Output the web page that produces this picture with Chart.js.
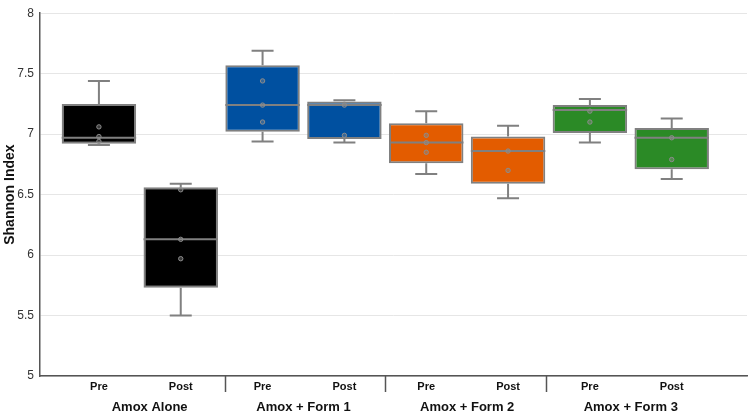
<!DOCTYPE html>
<html>
<head>
<meta charset="utf-8">
<script src="https://cdn.jsdelivr.net/npm/chart.js@4.4.1/dist/chart.umd.min.js"></script>
<style>
  html, body { margin: 0; padding: 0; background: #fff; }
  #wrap { width: 752px; height: 416px; }
</style>
</head>
<body>
<div id="wrap"><canvas id="chart-box"></canvas></div>
<script>
// box plot data
var groups = ["Amox Alone", "Amox + Form 1", "Amox + Form 2", "Amox + Form 3"];
var phases = ["Pre", "Post", "Pre", "Post", "Pre", "Post", "Pre", "Post"];
var whiskerLow = [6.91, 5.50, 6.94, 6.93, 6.67, 6.47, 6.93, 6.63];
var q1 = [6.92, 5.73, 7.02, 6.96, 6.76, 6.59, 7.01, 6.71];
var median = [6.97, 6.13, 7.24, 7.24, 6.93, 6.86, 7.20, 6.97];
var q3 = [7.25, 6.56, 7.57, 7.27, 7.09, 6.98, 7.24, 7.05];
var whiskerHigh = [7.44, 6.59, 7.69, 7.28, 7.19, 7.07, 7.29, 7.13];
var points = [
  [7.06, 6.98, 6.94],
  [6.54, 6.13, 5.97],
  [7.44, 7.24, 7.10],
  [7.24, 6.99],
  [6.99, 6.93, 6.85],
  [6.86, 6.70],
  [7.19, 7.10],
  [6.97, 6.79]
];
var colors = ["#000000", "#000000", "#0050a0", "#0050a0", "#e35c00", "#e35c00", "#2b8a26", "#2b8a26"];

var xs = phases.map(function (p, i) { return i; });

var boxData = xs.map(function (x, i) { return { x: x, y: [q1[i], q3[i]] }; });
var pointData = [];
points.forEach(function (arr, i) {
  arr.forEach(function (v) { pointData.push({ x: i, y: v }); });
});

var ctx = document.getElementById("chart-box").getContext("2d");

var boxExtras = {
  id: "boxExtras",
  afterDatasetDraw: function (chart, args) {
    if (args.index !== 0) return;
    var c = chart.ctx, xS = chart.scales.x, yS = chart.scales.y;
    var meta = chart.getDatasetMeta(0);
    c.save();
    c.strokeStyle = "#808080";
    c.lineWidth = 2;
    xs.forEach(function (x, i) {
      var bar = meta.data[i];
      var half = bar.width / 2;
      var px = xS.getPixelForValue(x);
      var cap = 11;
      // median
      c.beginPath();
      c.moveTo(px - half, yS.getPixelForValue(median[i]));
      c.lineTo(px + half, yS.getPixelForValue(median[i]));
      c.stroke();
      // whiskers
      c.beginPath();
      c.moveTo(px, yS.getPixelForValue(q3[i]));
      c.lineTo(px, yS.getPixelForValue(whiskerHigh[i]));
      c.moveTo(px - cap, yS.getPixelForValue(whiskerHigh[i]));
      c.lineTo(px + cap, yS.getPixelForValue(whiskerHigh[i]));
      c.moveTo(px, yS.getPixelForValue(q1[i]));
      c.lineTo(px, yS.getPixelForValue(whiskerLow[i]));
      c.moveTo(px - cap, yS.getPixelForValue(whiskerLow[i]));
      c.lineTo(px + cap, yS.getPixelForValue(whiskerLow[i]));
      c.stroke();
    });
    c.restore();
  },
  afterDraw: function (chart) {
    var c = chart.ctx, xS = chart.scales.x;
    var base = chart.chartArea.bottom;
    c.save();
    // group separators
    c.strokeStyle = "#555";
    c.lineWidth = 1.5;
    [1.54, 3.5, 5.46].forEach(function (v) {
      var px = Math.round(xS.getPixelForValue(v)) + 0.5;
      c.beginPath();
      c.moveTo(px, base);
      c.lineTo(px, base + 16);
      c.stroke();
    });
    // group labels
    c.fillStyle = "#111";
    c.font = "bold 13px 'Liberation Sans', Arial, sans-serif";
    c.textAlign = "center";
    c.textBaseline = "middle";
    groups.forEach(function (g, k) {
      var v = k === 0 ? 0.62 : 2 * k + 0.5;
      c.fillText(g, xS.getPixelForValue(v), base + 31);
    });
    c.restore();
  }
};

new Chart(ctx, {
  type: "bar",
  data: {
    datasets: [
      {
        type: "bar",
        label: "Box",
        data: boxData,
        backgroundColor: colors,
        borderColor: "#808080",
        borderWidth: 2,
        borderSkipped: false,
        grouped: false,
        categoryPercentage: 1.0,
        barPercentage: 0.91,
        order: 2
      },
      {
        type: "scatter",
        label: "Samples",
        data: pointData,
        pointRadius: 2.2,
        pointBorderWidth: 1,
        pointBorderColor: "#8c8c8c",
        pointBackgroundColor: "rgba(140,140,140,0.4)",
        order: 1
      }
    ]
  },
  options: {
    responsive: true,
    maintainAspectRatio: false,
    animation: false,
    layout: { padding: { top: -8, right: 0, bottom: 0, left: 0 } },
    plugins: {
      legend: { display: false },
      tooltip: { enabled: false }
    },
    scales: {
      x: {
        type: "linear",
        min: -0.72,
        max: 7.92,
        offset: false,
        grid: { display: false, drawTicks: false, offset: false },
        border: { display: true, color: "#555", width: 1.5 },
        afterBuildTicks: function (scale) {
          scale.ticks = xs.map(function (v) { return { value: v }; });
        },
        afterFit: function (scale) { scale.height = 40; },
        ticks: {
          autoSkip: false,
          maxRotation: 0,
          padding: 4,
          color: "#111",
          font: { size: 11, weight: "bold", family: "'Liberation Sans', Arial, sans-serif" },
          callback: function (v, i) { return phases[i]; }
        }
      },
      y: {
        min: 5,
        max: 8,
        grid: { color: "#e6e6e6", drawTicks: false },
        border: { display: true, color: "#555", width: 1.5 },
        afterFit: function (scale) { scale.width = 40; },
        ticks: {
          stepSize: 0.5,
          padding: 6,
          color: "#333",
          font: { size: 12, family: "'Liberation Sans', Arial, sans-serif" },
          callback: function (v) { return String(v); }
        },
        title: {
          display: true,
          text: "Shannon Index",
          color: "#111",
          padding: { top: 2, bottom: 0 },
          font: { size: 14, weight: "bold", family: "'Liberation Sans', Arial, sans-serif" }
        }
      }
    }
  },
  plugins: [boxExtras]
});
</script>
</body>
</html>
